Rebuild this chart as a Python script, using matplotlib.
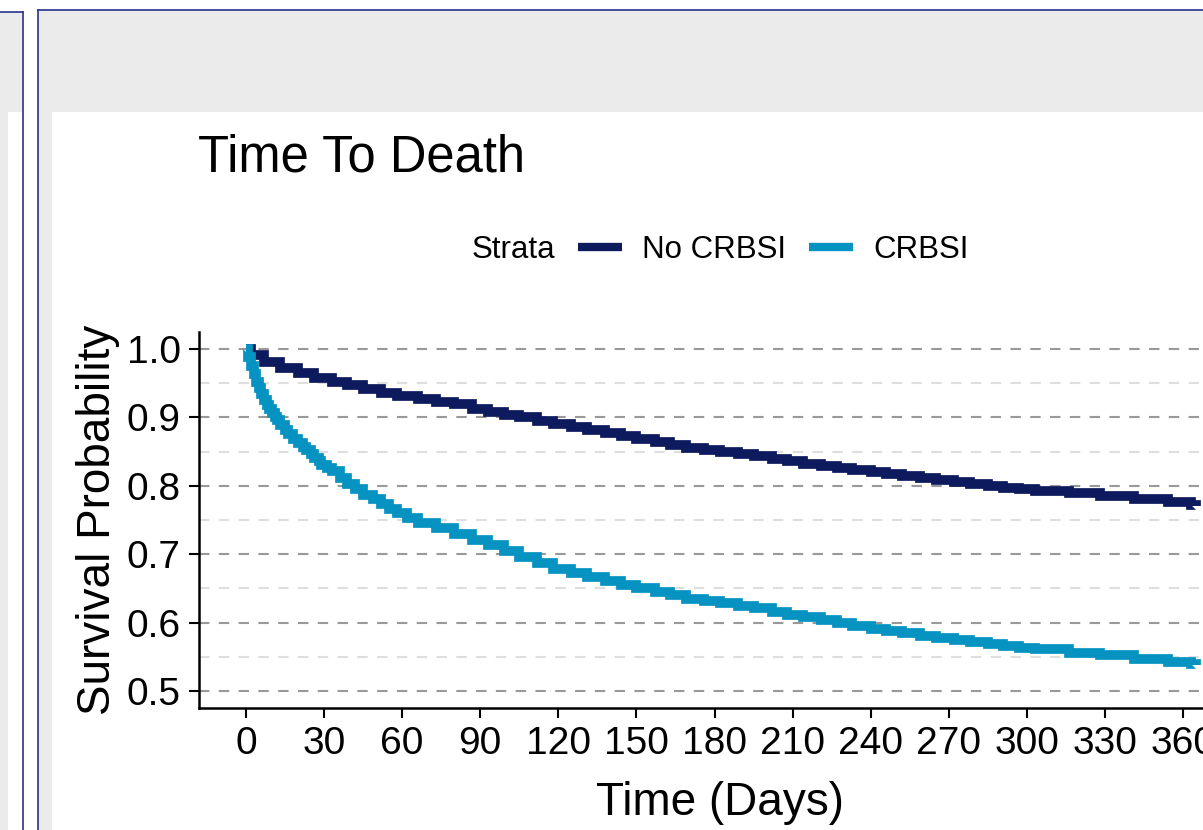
import matplotlib
matplotlib.use('Agg')
import matplotlib.pyplot as plt
from matplotlib.patches import Rectangle
from matplotlib.lines import Line2D

plt.rcParams['font.family'] = ['Liberation Sans', 'DejaVu Sans']

# survival curves (days, probability)
days_no_crbsi = [0, 2, 7, 13, 20, 26, 33, 39, 45, 52, 58, 66, 73, 80, 87, 93, 99, 105,
                 112, 118, 125, 131, 138, 144, 150, 157, 163, 169, 176, 182, 189, 195,
                 202, 208, 214, 221, 227, 233, 240, 246, 252, 259, 265, 272, 278, 285,
                 291, 297, 303, 316, 328, 341, 354, 363, 365]
surv_no_crbsi = [1.0, 0.992, 0.981, 0.973, 0.965, 0.958, 0.952, 0.947, 0.942, 0.936, 0.931,
                 0.927, 0.923, 0.919, 0.913, 0.908, 0.904, 0.900, 0.895, 0.890, 0.886,
                 0.882, 0.877, 0.873, 0.868, 0.864, 0.860, 0.856, 0.853, 0.850, 0.846,
                 0.843, 0.839, 0.836, 0.832, 0.829, 0.826, 0.823, 0.820, 0.817, 0.814,
                 0.811, 0.808, 0.805, 0.802, 0.800, 0.797, 0.795, 0.793, 0.789, 0.785,
                 0.780, 0.776, 0.772, 0.771]

days_crbsi = [0, 1, 2, 3, 4, 5, 6, 7, 8, 9, 10, 11, 12, 13, 15, 16, 18, 20, 22, 23, 25,
              26, 28, 29, 31, 33, 36, 39, 42, 45, 49, 52, 55, 58, 62, 66, 73, 80, 87, 93,
              99, 105, 112, 118, 125, 131, 138, 144, 150, 157, 163, 169, 176, 182, 189,
              195, 202, 208, 214, 221, 227, 233, 240, 246, 252, 259, 265, 272, 278, 285,
              291, 297, 303, 316, 328, 341, 354, 363, 365]
surv_crbsi = [1.0, 0.988, 0.975, 0.963, 0.952, 0.943, 0.934, 0.926, 0.918, 0.912, 0.907,
              0.901, 0.896, 0.889, 0.882, 0.876, 0.869, 0.863, 0.857, 0.852, 0.846,
              0.841, 0.836, 0.831, 0.826, 0.821, 0.812, 0.803, 0.795, 0.787, 0.780,
              0.773, 0.766, 0.760, 0.753, 0.746, 0.738, 0.730, 0.721, 0.713, 0.704,
              0.696, 0.687, 0.679, 0.673, 0.667, 0.661, 0.655, 0.650, 0.645, 0.640,
              0.635, 0.631, 0.628, 0.624, 0.621, 0.616, 0.611, 0.608, 0.604, 0.600,
              0.595, 0.591, 0.588, 0.585, 0.581, 0.577, 0.574, 0.571, 0.569, 0.566,
              0.563, 0.561, 0.556, 0.552, 0.547, 0.543, 0.539, 0.538]

strata = ['No CRBSI', 'CRBSI']
colors = ['#0e1a5e', '#0693c2']

x_ticks = [0, 30, 60, 90, 120, 150, 180, 210, 240, 270, 300, 330, 360]
y_ticks = [0.5, 0.6, 0.7, 0.8, 0.9, 1.0]
y_ticklabels = ['0.5', '0.6', '0.7', '0.8', '0.9', '1.0']
y_minor = [0.55, 0.65, 0.75, 0.85, 0.95]

W, H = 1203, 830
fig = plt.figure(figsize=(W / 100, H / 100), dpi=100)
fig.patch.set_facecolor('white')


def fx(px):
    return px / W


def fy(py):
    return 1 - py / H


def box(x0, y0, x1, y1, color='#ebebeb'):
    fig.add_artist(Rectangle((fx(x0), fy(y1)), (x1 - x0) / W, (y1 - y0) / H,
                             transform=fig.transFigure, color=color, lw=0, zorder=0))


def rule(x0, y0, x1, y1):
    fig.add_artist(Line2D([fx(x0), fx(x1)], [fy(y0), fy(y1)], transform=fig.transFigure,
                          color='#27348a', lw=1.2, zorder=1))


# app panels around the plot
box(0, 12, 23, 112)
box(0, 112, 8, 830)
box(38, 10, 1203, 112)
box(38, 112, 52, 830)
rule(0, 12, 23, 12)
rule(23, 12, 23, 830)
rule(38, 10, 1203, 10)
rule(38, 10, 38, 830)

ax = fig.add_axes([fx(199), fy(708), (1230 - 199) / W, (708 - 332) / H])
ax.set_xlim(-18, 378)
ax.set_ylim(0.475, 1.025)

ax.step(days_no_crbsi, surv_no_crbsi, where='post', color=colors[0], lw=7,
        solid_joinstyle='miter', solid_capstyle='butt', zorder=3)
ax.step(days_crbsi, surv_crbsi, where='post', color=colors[1], lw=7,
        solid_joinstyle='miter', solid_capstyle='butt', zorder=3)

ax.set_xticks(x_ticks)
ax.set_yticks(y_ticks)
ax.set_yticklabels(y_ticklabels)
ax.set_yticks(y_minor, minor=True)
ax.tick_params(which='major', length=7, width=1.5, labelsize=28, pad=6, color='black')
ax.tick_params(which='minor', length=0)
ax.grid(which='major', axis='y', color='#999999', lw=1.5, linestyle=(0, (5, 4.5)))
ax.grid(which='minor', axis='y', color='#dedede', lw=1.5, linestyle=(0, (5, 4.5)))
ax.set_axisbelow(True)
for s in ['top', 'right']:
    ax.spines[s].set_visible(False)
for s in ['left', 'bottom']:
    ax.spines[s].set_linewidth(1.8)

ax.set_ylabel('Survival Probability', fontsize=33, labelpad=5)
fig.text(fx(720), fy(815), 'Time (Days)', fontsize=33, ha='center', va='baseline')
fig.text(fx(198), fy(172), 'Time To Death', fontsize=36.5, ha='left', va='baseline')

# legend
fig.text(fx(472), fy(250), 'Strata', fontsize=22.5, ha='left', va='center')
handles = [Line2D([], [], color=c, lw=6, solid_capstyle='butt') for c in colors]
fig.legend(handles, strata, loc='center left', bbox_to_anchor=(fx(578), fy(250)),
           ncol=2, frameon=False, fontsize=22.5, handlelength=1.4, handletextpad=0.66,
           columnspacing=0.72, borderpad=0, borderaxespad=0)

fig.savefig('out.png', dpi=100)
